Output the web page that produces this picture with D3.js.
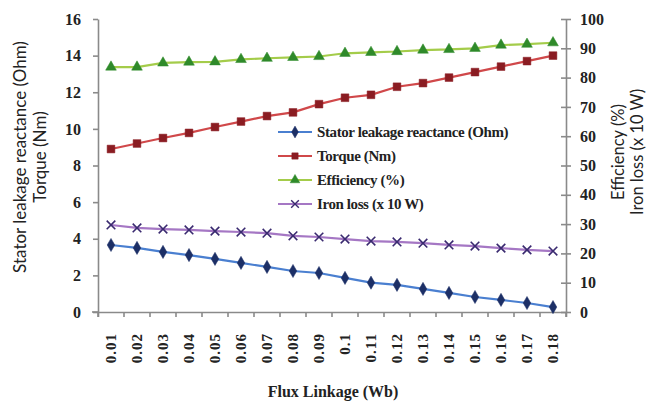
<!DOCTYPE html>
<html>
<head>
<meta charset="utf-8">
<script src="https://cdn.jsdelivr.net/npm/d3@7"></script>
<style>
  body { margin: 0; background: #fff; }
  svg { display: block; }
</style>
</head>
<body>
<div id="chart"></div>
<script>
var flux = ["0.01","0.02","0.03","0.04","0.05","0.06","0.07","0.08","0.09","0.1",
            "0.11","0.12","0.13","0.14","0.15","0.16","0.17","0.18"];

// left axis series
var stator = [3.66, 3.5, 3.28, 3.11, 2.9, 2.68, 2.46, 2.24, 2.13, 1.86, 1.6, 1.48, 1.26, 1.04, 0.82, 0.66, 0.49, 0.27];
var torque = [8.9, 9.2, 9.5, 9.78, 10.1, 10.4, 10.7, 10.9, 11.35, 11.7, 11.86, 12.3, 12.5, 12.8, 13.1, 13.4, 13.7, 14.0];
// right axis series
var efficiency = [83.6, 83.6, 85, 85.3, 85.4, 86.2, 86.6, 86.9, 87.2, 88.3, 88.6, 88.9, 89.4, 89.6, 90, 91.1, 91.4, 91.9];
var ironLoss = [29.7, 28.7, 28.3, 28, 27.6, 27.3, 26.9, 26, 25.6, 24.9, 24.2, 23.9, 23.5, 22.9, 22.5, 21.8, 21.2, 20.8];

var leftTicks = [0, 2, 4, 6, 8, 10, 12, 14, 16];
var rightTicks = [0, 10, 20, 30, 40, 50, 60, 70, 80, 90, 100];

var series = [
  { name: "Stator leakage reactance (Ohm)", values: stator, axis: "left", line: "#4a7fd0", mark: "#1c2f66", shape: d3.symbolDiamond },
  { name: "Torque (Nm)", values: torque, axis: "left", line: "#d0484a", mark: "#8a1c22", shape: d3.symbolSquare },
  { name: "Efficiency (%)", values: efficiency, axis: "right", line: "#a4cc4a", mark: "#2f8a2a", shape: d3.symbolTriangle },
  { name: "Iron loss (x 10 W)", values: ironLoss, axis: "right", line: "#a577c4", mark: "#3a2a70", shape: "cross" }
];

var W = 647, H = 407;
var svg = d3.select("#chart").append("svg").attr("width", W).attr("height", H);

var x = d3.scaleBand().domain(flux).range([98, 566]);
var yL = d3.scaleLinear().domain([0, 16]).range([312, 19]);
var yR = d3.scaleLinear().domain([0, 100]).range([312, 19]);

var serif = "'Liberation Serif', 'DejaVu Serif', serif";
var sans = "Lato, 'Noto Sans', sans-serif";

// axes
var gx = svg.append("g").attr("transform", "translate(0,312)")
  .call(d3.axisBottom(x).tickSizeOuter(0).tickSize(5).tickFormat(""));
gx.selectAll(".tick line").attr("transform", "translate(" + (-x.bandwidth() / 2) + ",0)");
gx.append("line").attr("x1", x.range()[1]).attr("x2", x.range()[1]).attr("y1", 0).attr("y2", 5);
gx.append("line").attr("x1", 92).attr("x2", 98).attr("y1", 0).attr("y2", 0);

var gl = svg.append("g").attr("transform", "translate(98,0)")
  .call(d3.axisLeft(yL).tickValues(leftTicks).tickSize(5).tickSizeOuter(0).tickPadding(12));
var gr = svg.append("g").attr("transform", "translate(566,0)")
  .call(d3.axisRight(yR).tickValues(rightTicks).tickSize(5).tickSizeOuter(0).tickPadding(9));

[gx, gl, gr].forEach(function(g) {
  g.selectAll("path, line").attr("stroke", "#8a8a8a").attr("stroke-width", 1.6);
});
gr.selectAll(".tick line").attr("x1", -5);
gl.selectAll("text").attr("font-family", serif).attr("font-weight", "bold").attr("font-size", 16).attr("fill", "#222");
gr.selectAll("text").attr("font-family", serif).attr("font-weight", "bold").attr("font-size", 16).attr("fill", "#222");

// rotated category labels
svg.append("g").selectAll("text").data(flux).enter().append("text")
  .attr("transform", function(d) { return "translate(" + (x(d) + x.bandwidth() / 2 + 5) + ",333) rotate(-90)"; })
  .attr("text-anchor", "end")
  .attr("font-family", serif).attr("font-weight", "bold").attr("font-size", 15)
  .attr("letter-spacing", 1).attr("fill", "#222")
  .text(function(d) { return d; });

// axis titles
svg.append("text").attr("x", 333).attr("y", 397).attr("text-anchor", "middle")
  .attr("font-family", serif).attr("font-weight", "bold").attr("font-size", 16).attr("fill", "#222")
  .text("Flux Linkage (Wb)");

var lt = svg.append("text").attr("transform", "translate(0,157) rotate(-90)")
  .attr("text-anchor", "middle").attr("font-family", sans).attr("font-size", 17).attr("fill", "#222");
lt.append("tspan").attr("x", 0).attr("y", 26).text("Stator leakage reactance (Ohm)");
lt.append("tspan").attr("x", 0).attr("y", 46).text("Torque (Nm)");

var rt = svg.append("text").attr("transform", "translate(0,152) rotate(-90)")
  .attr("text-anchor", "middle").attr("font-family", sans).attr("font-size", 16.5).attr("fill", "#222");
rt.append("tspan").attr("x", 0).attr("y", 624).text("Efficiency (%)");
rt.append("tspan").attr("x", 0).attr("y", 643).text("Iron loss (x 10 W)");

function markerPath(s, size) {
  if (s === "cross") return d3.symbol(d3.symbolX, size)();
  return d3.symbol(s, size)();
}

series.forEach(function(s) {
  var y = s.axis === "left" ? yL : yR;
  var line = d3.line()
    .x(function(d, i) { return x(flux[i]) + x.bandwidth() / 2; })
    .y(function(d) { return y(d); });
  svg.append("path").datum(s.values).attr("d", line)
    .attr("fill", "none").attr("stroke", s.line).attr("stroke-width", 2.2);
  svg.append("g").selectAll("path").data(s.values).enter().append("path")
    .attr("transform", function(d, i) { return "translate(" + (x(flux[i]) + x.bandwidth() / 2) + "," + y(d) + ")"; })
    .attr("d", markerPath(s.shape, s.shape === d3.symbolSquare ? 60 : 50))
    .attr("fill", s.mark)
    .attr("stroke", s.mark).attr("stroke-width", s.shape === "cross" ? 1.6 : 0.5);
});

// legend
var leg = svg.append("g").attr("transform", "translate(278,132)");
series.forEach(function(s, i) {
  var g = leg.append("g").attr("transform", "translate(0," + (i * 24) + ")");
  g.append("line").attr("x1", 0).attr("x2", 34).attr("stroke", s.line).attr("stroke-width", 2.2);
  g.append("path").attr("transform", "translate(17,0)")
    .attr("d", markerPath(s.shape, 40)).attr("fill", s.mark).attr("stroke", s.mark)
    .attr("stroke-width", s.shape === "cross" ? 1.4 : 0.5);
  g.append("text").attr("x", 39).attr("y", 5)
    .attr("font-family", serif).attr("font-weight", "bold").attr("font-size", 15)
    .attr("letter-spacing", -0.4).attr("fill", "#222").text(s.name);
});
</script>
</body>
</html>
